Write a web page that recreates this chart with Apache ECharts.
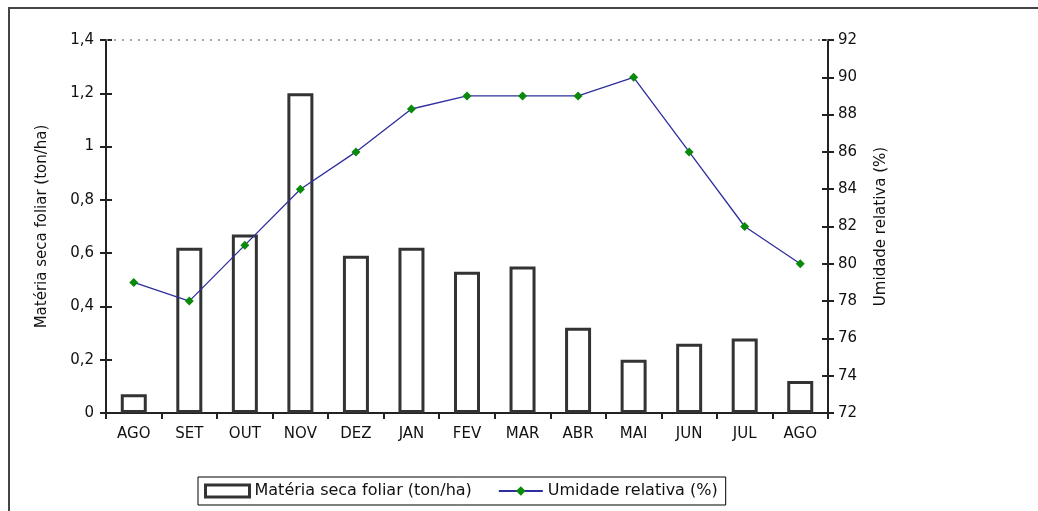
<!DOCTYPE html>
<html>
<head>
<meta charset="utf-8">
<script src="https://cdn.jsdelivr.net/npm/echarts@6/dist/echarts.min.js"></script>
<style>
  html, body { margin: 0; padding: 0; background: #fff; }
  #chart { width: 1038px; height: 511px; }
</style>
</head>
<body>
<div id="chart"></div>
<script>
// Monthly dry leaf matter (bars, left axis) and relative humidity (line, right axis)
const months = ['AGO', 'SET', 'OUT', 'NOV', 'DEZ', 'JAN', 'FEV', 'MAR', 'ABR', 'MAI', 'JUN', 'JUL', 'AGO'];
const materiaSeca = [0.07, 0.62, 0.67, 1.2, 0.59, 0.62, 0.53, 0.55, 0.32, 0.2, 0.26, 0.28, 0.12];
const umidade = [79, 78, 81, 84, 86, 88.3, 89, 89, 89, 90, 86, 82, 80];

const leftName = 'Matéria seca foliar (ton/ha)';
const rightName = 'Umidade relativa (%)';

const FONT = 'DejaVu Sans';
const AXIS_COLOR = '#222';
const fmtComma = v => String(Math.round(v * 10) / 10).replace('.', ',');

const chart = echarts.init(document.getElementById('chart'), null, { renderer: 'canvas' });

const baseY = {
  type: 'value',
  splitLine: { show: false },
  axisLine: { show: true, lineStyle: { color: AXIS_COLOR, width: 2 } },
  axisTick: { show: true, length: 6, lineStyle: { color: AXIS_COLOR, width: 2 } },
  axisLabel: { color: '#111', fontFamily: FONT, fontSize: 15 }
};

chart.setOption({
  animation: false,
  backgroundColor: '#fff',
  textStyle: { fontFamily: FONT },
  grid: { left: 106, right: 210, top: 40, bottom: 98, containLabel: false },
  legend: {
    left: 198, top: 477,
    padding: [6, 8, 6, 6],
    itemGap: 26,
    itemWidth: 44,
    itemHeight: 12,
    borderColor: '#000', borderWidth: 1,
    textStyle: { color: '#111', fontFamily: FONT, fontSize: 16 },
    data: [
      { name: leftName, icon: 'rect', itemStyle: { color: '#fff', borderColor: '#333', borderWidth: 3 } },
      { name: rightName }
    ]
  },
  xAxis: {
    type: 'category',
    data: months,
    boundaryGap: true,
    axisLine: { lineStyle: { color: AXIS_COLOR, width: 2 } },
    axisTick: { show: true, length: 6, alignWithLabel: false, lineStyle: { color: AXIS_COLOR, width: 2 } },
    axisLabel: { color: '#111', fontFamily: FONT, fontSize: 15, margin: 14 }
  },
  yAxis: [
    Object.assign({}, baseY, {
      position: 'left', min: 0, max: 1.4, interval: 0.2,
      name: leftName, nameLocation: 'middle', nameGap: 56, nameRotate: 90,
      nameTextStyle: { color: '#111', fontFamily: FONT, fontSize: 15 },
      axisLabel: Object.assign({}, baseY.axisLabel, { margin: 12, formatter: fmtComma })
    }),
    Object.assign({}, baseY, {
      position: 'right', min: 72, max: 92, interval: 2,
      name: rightName, nameLocation: 'middle', nameGap: 46, nameRotate: 90,
      nameTextStyle: { color: '#111', fontFamily: FONT, fontSize: 15 },
      axisLabel: Object.assign({}, baseY.axisLabel, { margin: 10 })
    }),
    // inner halves of the crossing tick marks
    {
      type: 'value', position: 'left', min: 0, max: 1.4, interval: 0.2,
      splitLine: { show: false }, axisLabel: { show: false }, axisLine: { show: false },
      axisTick: { show: true, inside: true, length: 6, lineStyle: { color: AXIS_COLOR, width: 2 } }
    },
    {
      type: 'value', position: 'right', min: 72, max: 92, interval: 2,
      splitLine: { show: false }, axisLabel: { show: false }, axisLine: { show: false },
      axisTick: { show: true, inside: true, length: 6, lineStyle: { color: AXIS_COLOR, width: 2 } }
    }
  ],
  series: [
    {
      name: leftName,
      type: 'bar',
      yAxisIndex: 0,
      data: materiaSeca,
      barWidth: 26,
      itemStyle: { color: '#fff', borderColor: '#333', borderWidth: 3 },
      markLine: {
        silent: true,
        symbol: 'none',
        label: { show: false },
        lineStyle: { color: '#888', type: [2, 6], width: 1.5 },
        data: [{ yAxis: 1.4 }]
      }
    },
    {
      name: rightName,
      type: 'line',
      yAxisIndex: 1,
      data: umidade,
      symbol: 'diamond',
      symbolSize: 9,
      lineStyle: { color: '#2e2e9e', width: 1.3 },
      itemStyle: { color: '#0a8a0a' },
      z: 5
    }
  ],
  graphic: [
    {
      type: 'polyline',
      shape: { points: [[9, 511], [9, 8], [1038, 8]] },
      style: { stroke: '#444', lineWidth: 2, fill: null }
    }
  ]
});
</script>
</body>
</html>
